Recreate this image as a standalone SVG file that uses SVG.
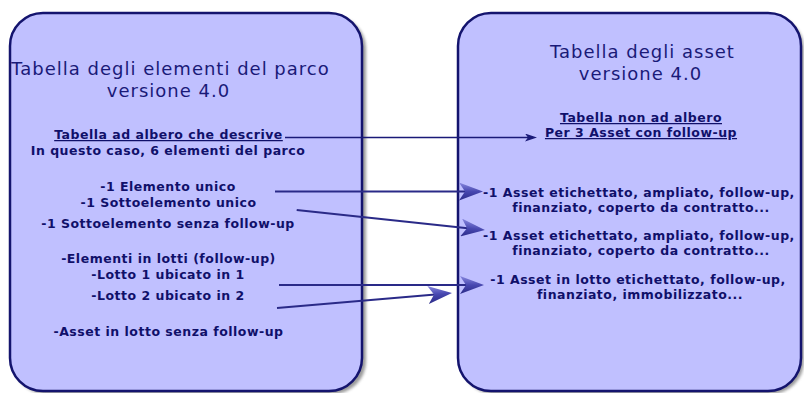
<svg xmlns="http://www.w3.org/2000/svg" width="804" height="393" viewBox="0 0 804 393">
<style>
.box{fill:#c0c0ff;stroke:#14146e;stroke-width:2.5}
.shadow{fill:#707070;opacity:0.7}
.title{font-family:"DejaVu Sans",Verdana,sans-serif;font-size:18px;letter-spacing:1px;fill:#1a1a78;text-anchor:middle}
.b{font-family:"DejaVu Sans",Verdana,sans-serif;font-size:12.5px;letter-spacing:0.5px;font-weight:bold;fill:#10106a;text-anchor:middle}
.u{text-decoration:underline}
.conn{stroke:#2a2a88;stroke-width:2;fill:none}
.thin{stroke:#1a1a78;stroke-width:1.3;fill:none}
</style>
<defs>
<filter id="blur" x="-5%" y="-5%" width="110%" height="110%"><feGaussianBlur stdDeviation="1.5"/></filter>
<linearGradient id="ag" x1="0" y1="0" x2="0" y2="1">
<stop offset="0" stop-color="#8a8ae0"/>
<stop offset="0.5" stop-color="#4848b0"/>
<stop offset="1" stop-color="#2a2a88"/>
</linearGradient>
<marker id="big" markerUnits="userSpaceOnUse" viewBox="0 0 24 18" refX="16" refY="9" markerWidth="24" markerHeight="18" orient="auto">
<path d="M0,0 L24,9 L0,18 L6,9 Z" fill="url(#ag)"/>
</marker>
<marker id="small" markerUnits="userSpaceOnUse" viewBox="0 0 12 8" refX="8" refY="4" markerWidth="12" markerHeight="8" orient="auto">
<path d="M0,0 L12,4 L0,8 L3,4 Z" fill="#1a1a78"/>
</marker>
</defs>
<g id="node-parco">
<rect class="shadow" x="13" y="16" width="353" height="378" rx="33" filter="url(#blur)"/>
<rect class="box" x="10" y="13" width="352" height="378" rx="33"/>
<text class="title" x="170.5" y="75">Tabella degli elementi del parco</text>
<text class="title" x="168.5" y="97">versione 4.0</text>
<text class="b u" x="168.5" y="139">Tabella ad albero che descrive</text>
<text class="b" x="168" y="155">In questo caso, 6 elementi del parco</text>
<text class="b" x="168" y="191">-1 Elemento unico</text>
<text class="b" x="168.5" y="207">-1 Sottoelemento unico</text>
<text class="b" x="168" y="228">-1 Sottoelemento senza follow-up</text>
<text class="b" x="168.5" y="263">-Elementi in lotti (follow-up)</text>
<text class="b" x="168" y="279">-Lotto 1 ubicato in 1</text>
<text class="b" x="168" y="300">-Lotto 2 ubicato in 2</text>
<text class="b" x="168.5" y="336">-Asset in lotto senza follow-up</text>
</g>
<g id="node-asset">
<rect class="shadow" x="461" y="16" width="343" height="378" rx="33" filter="url(#blur)"/>
<rect class="box" x="458" y="13" width="343" height="378" rx="33"/>
<text class="title" x="642.5" y="58">Tabella degli asset</text>
<text class="title" x="640.5" y="80">versione 4.0</text>
<text class="b u" x="641" y="122">Tabella non ad albero</text>
<text class="b u" x="641" y="137">Per 3 Asset con follow-up</text>
<text class="b" x="639" y="197">-1 Asset etichettato, ampliato, follow-up,</text>
<text class="b" x="641" y="212">finanziato, coperto da contratto...</text>
<text class="b" x="639" y="240">-1 Asset etichettato, ampliato, follow-up,</text>
<text class="b" x="641" y="255">finanziato, coperto da contratto...</text>
<text class="b" x="638" y="284">-1 Asset in lotto etichettato, follow-up,</text>
<text class="b" x="640" y="299">finanziato, immobilizzato...</text>
</g>
<g id="connectors">
<line class="thin" x1="285" y1="137.5" x2="533" y2="137.5" marker-end="url(#small)"/>
<line class="conn" x1="275" y1="191.5" x2="475" y2="191.5" marker-end="url(#big)"/>
<line class="conn" x1="296.7" y1="210" x2="477" y2="229.2" marker-end="url(#big)"/>
<line class="conn" x1="279" y1="285" x2="476" y2="285" marker-end="url(#big)"/>
<line class="conn" x1="277" y1="308" x2="444" y2="293.7" marker-end="url(#big)"/>
</g>
</svg>
